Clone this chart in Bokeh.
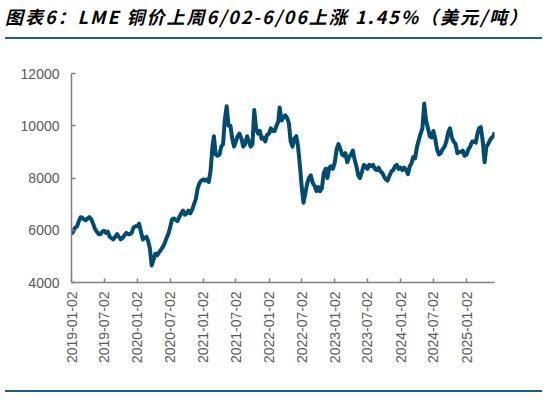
import math
from datetime import datetime

from bokeh.embed import file_html
from bokeh.layouts import column
from bokeh.models import ColumnDataSource, DatetimeTickFormatter, Div, FixedTicker, Range1d
from bokeh.plotting import figure
from bokeh.resources import INLINE

title_text = "图表6：LME 铜价上周6/02-6/06上涨 1.45%（美元/吨）"
source_text = "来源：Wind，国金证券研究所"

tick_labels = ["2019-01-02", "2019-07-02", "2020-01-02", "2020-07-02", "2021-01-02",
               "2021-07-02", "2022-01-02", "2022-07-02", "2023-01-02", "2023-07-02",
               "2024-01-02", "2024-07-02", "2025-01-02"]
y_ticks = [4000, 6000, 8000, 10000, 12000]

# three readings a month (days 02, 12, 22)
months = ["%d-%02d" % (y, m) for y in range(2019, 2026) for m in range(1, 13)]
days = ["02", "12", "22"]
prices_2019 = [5850, 5950, 6100, 6150, 6350, 6500, 6480, 6420, 6380, 6450, 6500, 6420,
               6250, 6050, 5950, 5850, 5850, 5950, 5980, 5900, 5950, 5750, 5700, 5650,
               5750, 5850, 5750, 5650, 5700, 5800, 5900, 5850, 5850, 5900, 6100, 6150]
prices_2020 = [6150, 6250, 5950, 5650, 5700, 5750, 5600, 5300, 4650, 4900, 5100, 5050,
               5150, 5250, 5350, 5500, 5700, 5850, 6100, 6400, 6450, 6400, 6350, 6500,
               6650, 6750, 6600, 6650, 6750, 6650, 6800, 7000, 7200, 7600, 7800, 7900]
prices_2021 = [7950, 7900, 7950, 7850, 8300, 9200, 9600, 8900, 8850, 8900, 9200, 9300,
               10250, 10750, 10000, 10000, 9500, 9200, 9400, 9600, 9700, 9500, 9200, 9300,
               9600, 9400, 9200, 9300, 10600, 9900, 9700, 9800, 9500, 9550, 9400, 9650]
prices_2022 = [9700, 9900, 9800, 9800, 10000, 10150, 10700, 10200, 10300, 10400, 10300, 10100,
               9400, 9200, 9500, 9600, 9200, 8500, 7700, 7050, 7400, 7800, 8000, 8100,
               7800, 7700, 7500, 7650, 7500, 7600, 8200, 8350, 8000, 8400, 8450, 8350]
prices_2023 = [8600, 9100, 9300, 9100, 8900, 8850, 8950, 8600, 8800, 8900, 9050, 8700,
               8450, 8100, 8000, 8250, 8500, 8450, 8350, 8500, 8450, 8500, 8350, 8300,
               8400, 8250, 8200, 8050, 7950, 7900, 8100, 8250, 8300, 8450, 8500, 8350]
prices_2024 = [8400, 8300, 8400, 8300, 8150, 8450, 8550, 8800, 8750, 9200, 9450, 9700,
               9900, 10850, 10200, 9900, 9600, 9550, 9800, 9500, 9100, 8900, 8950, 9100,
               9200, 9400, 9750, 9900, 9550, 9400, 9300, 8950, 9000, 9000, 9050, 8850]
prices_2025 = [8900, 9100, 9200, 9400, 9400, 9350, 9650, 9900, 9950, 9400, 8600, 9200,
               9300, 9450, 9550, 9600]
last_date = "2025-06-06"
last_price = 9750

prices = prices_2019 + prices_2020 + prices_2021 + prices_2022 + prices_2023 + prices_2024 + prices_2025
dates = [datetime.strptime(m + "-" + d, "%Y-%m-%d") for m in months for d in days][:len(prices)]
dates.append(datetime.strptime(last_date, "%Y-%m-%d"))
prices.append(last_price)

src = ColumnDataSource(data=dict(date=dates, price=prices))

rule_color = "#1e5c80"


def rule():
    # separator line between title / chart / source
    return Div(width=537, height=2, styles={"font-size": "0px", "line-height": "0px"},
               text='<div style="display:block;width:537px;height:2px;background:%s"></div>' % rule_color)


title = Div(width=539, height=22, text=(
    '<div style="font-family:\'Noto Sans CJK SC\';font-size:18px;font-weight:bold;'
    'font-style:italic;letter-spacing:2px;color:#000;line-height:22px;white-space:nowrap">'
    + title_text + '</div>'))

p = figure(width=539, height=341, x_axis_type="datetime", output_backend="svg",
           toolbar_location=None, min_border_left=71, min_border_right=45,
           min_border_top=29, min_border_bottom=103)
p.x_range = Range1d(datetime(2019, 1, 2), datetime(2025, 6, 6))
p.y_range = Range1d(4000, 12000)
p.outline_line_color = None
p.grid.grid_line_color = None

p.line("date", "price", source=src, line_width=4, color="#004b6f", line_join="round")

tick_ms = [datetime.strptime(t, "%Y-%m-%d").timestamp() * 1000 for t in tick_labels]
p.xaxis.ticker = FixedTicker(ticks=tick_ms)
p.xaxis.formatter = DatetimeTickFormatter(days="%Y-%m-%d", months="%Y-%m-%d", years="%Y-%m-%d")
p.xaxis.major_label_orientation = math.pi / 2
p.yaxis.ticker = FixedTicker(ticks=y_ticks)

for ax in (p.xaxis, p.yaxis):
    ax.axis_line_color = "#808080"
    ax.axis_line_width = 1.5
    ax.major_tick_line_color = "#808080"
    ax.major_tick_line_width = 1.5
    ax.major_tick_in = 4
    ax.major_tick_out = 0
    ax.minor_tick_line_color = None
    ax.major_label_text_font = "Liberation Sans"
    ax.major_label_text_color = "#595959"
p.xaxis.major_label_text_font_size = "14px"
p.xaxis.major_label_standoff = 9
p.yaxis.major_label_text_font_size = "14px"
p.yaxis.major_label_standoff = 12

note = Div(width=539, height=20, text=(
    '<div style="padding-top:5px;font-family:\'Noto Sans CJK SC\';font-size:13px;'
    'line-height:15px;letter-spacing:1.2px;color:#000;white-space:nowrap">'
    + source_text + '</div>'))

layout = column(title, rule(), p, rule(), note, spacing=0)
open("out.html", "w").write(file_html(layout, INLINE))
